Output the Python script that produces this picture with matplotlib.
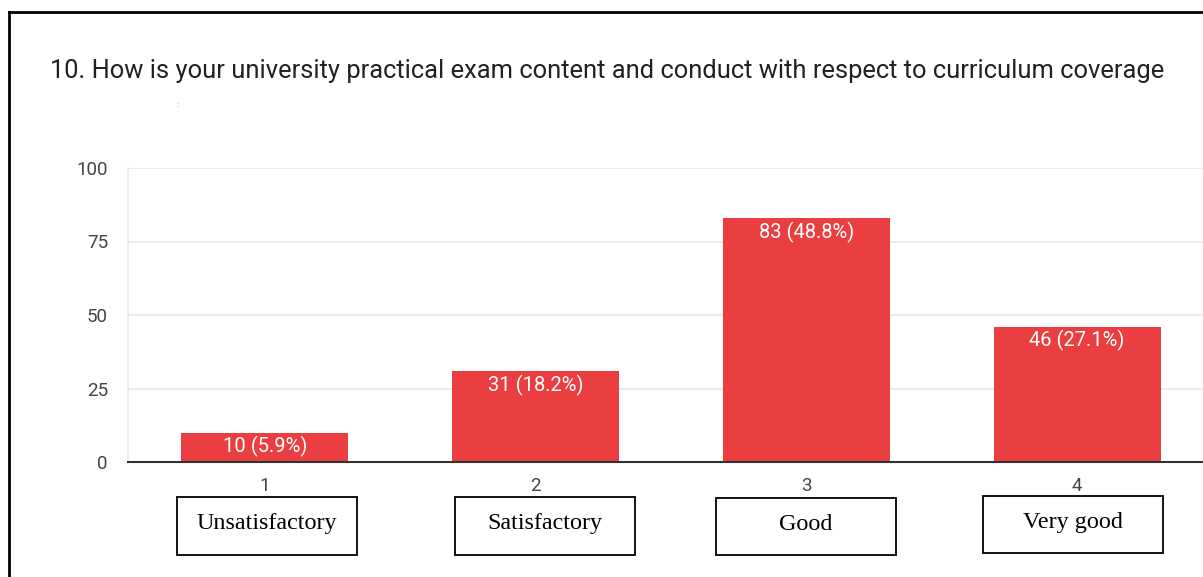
import matplotlib
matplotlib.use("Agg")
import matplotlib.pyplot as plt
from matplotlib.lines import Line2D
from matplotlib.patches import Rectangle

positions = [1, 2, 3, 4]
counts = [10, 31, 83, 46]
percents = [5.9, 18.2, 48.8, 27.1]
tick_labels = ["1", "2", "3", "4"]
category_names = ["Unsatisfactory", "Satisfactory", "Good", "Very good"]
yticks = [0, 25, 50, 75, 100]
title = "10. How is your university practical exam content and conduct with respect to curriculum coverage"

W, H = 1203, 577
fig = plt.figure(figsize=(W / 100, H / 100), dpi=100)
fig.patch.set_facecolor("white")

def fx(px):
    return px / W

def fy(py):
    return 1 - py / H

ax = fig.add_axes([fx(128), fy(462), fx(1203) - fx(128), fy(168) - fy(462)])
bar_color = "#ea3e40"
ax.bar(positions, counts, width=0.617, color=bar_color, zorder=3)
ax.set_xlim(0.494, 4.465)
ax.set_ylim(0, 100)
ax.set_yticks(yticks)
ax.set_yticklabels([str(v) for v in yticks], fontsize=13.5, color="#444444", family="Roboto")
ax.set_xticks(positions)
ax.set_xticklabels(tick_labels, fontsize=13.5, color="#444444", family="Roboto")
ax.tick_params(axis="both", length=0)
ax.tick_params(axis="y", pad=14.4)
ax.tick_params(axis="x", pad=11)
ax.grid(axis="y", color="#e9e9e9", linewidth=1.2, zorder=0)
for s in ["top", "right"]:
    ax.spines[s].set_visible(False)
ax.spines["left"].set_color("#e9e9e9")
ax.spines["left"].set_linewidth(1.2)
ax.spines["bottom"].set_color("#333333")
ax.spines["bottom"].set_linewidth(1.5)
ax.spines["bottom"].set_zorder(4)

for p, c, pc in zip(positions, counts, percents):
    ax.text(p, c - 4.8, f"{c} ({pc}%)", ha="center", va="center", color="white",
            fontsize=14.5, family="Roboto", zorder=5)

fig.text(fx(50), fy(71), title, fontsize=18.4, color="#212121", family="Roboto",
         ha="left", va="center")
fig.text(fx(177), fy(105), ":", fontsize=5, color="#999999", ha="center", va="center")

# category boxes
boxes = [(177, 497, 357, 555), (455, 497, 635, 555), (716, 498, 896, 555), (983, 496, 1163, 553)]
for (x0, y0, x1, y1), name in zip(boxes, category_names):
    fig.patches.append(Rectangle((fx(x0), fy(y1)), fx(x1) - fx(x0), fy(y0) - fy(y1),
                                 transform=fig.transFigure, fill=False,
                                 edgecolor="black", linewidth=1.3))
    fig.text((fx(x0) + fx(x1)) / 2, (fy(y0) + fy(y1)) / 2 + 0.004, name,
             fontsize=17.4, family="Liberation Serif", color="black",
             ha="center", va="center")

# outer black frame (left and top)
fig.lines.append(Line2D([fx(9), fx(9)], [0, fy(12)], transform=fig.transFigure,
                        color="black", linewidth=2))
fig.lines.append(Line2D([fx(9), 1], [fy(12), fy(12)], transform=fig.transFigure,
                        color="black", linewidth=2))

fig.savefig("out.png", dpi=100, facecolor="white")
